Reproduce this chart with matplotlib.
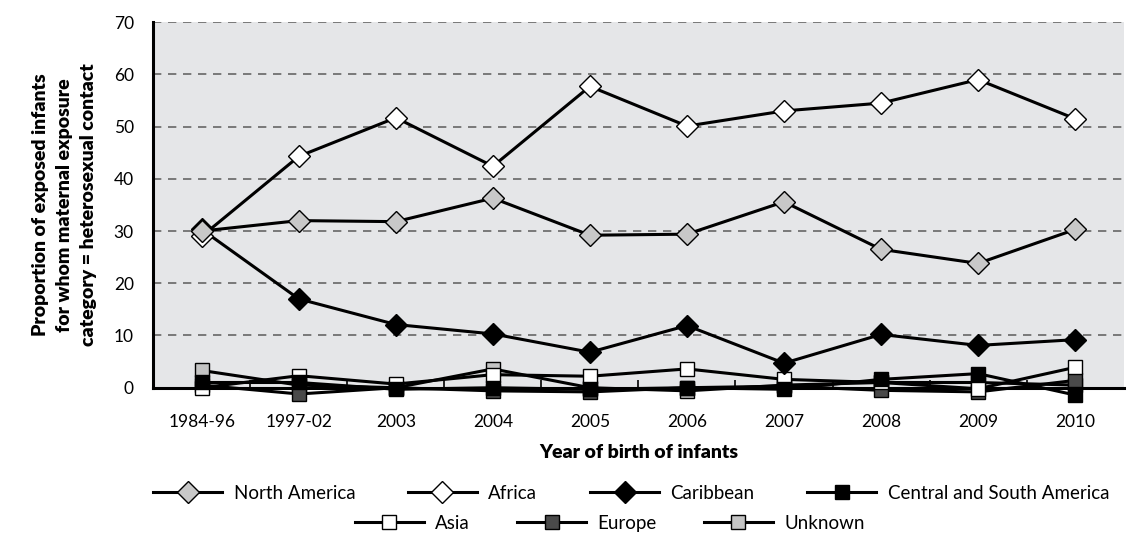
import matplotlib.pyplot as plt
import numpy as np

plt.rcParams['font.family'] = ['Lato', 'DejaVu Sans']

years = ['1984-96', '1997-02', '2003', '2004', '2005', '2006', '2007', '2008', '2009', '2010']

north_america = [30.0, 32.0, 31.8, 36.3, 29.2, 29.4, 35.6, 26.5, 23.8, 30.3]
africa = [29.0, 44.3, 51.7, 42.4, 57.7, 50.1, 53.0, 54.5, 59.0, 51.5]
caribbean = [30.3, 17.0, 12.1, 10.3, 6.8, 11.9, 4.7, 10.2, 8.1, 9.2]
central_south = [1.0, 1.0, -0.3, 0.0, -0.3, 0.0, -0.3, 1.6, 2.7, -1.4]
asia = [0.0, 2.3, 0.7, 2.5, 2.2, 3.6, 1.6, 1.0, -0.2, 3.9]
europe = [0.5, -1.2, 0.0, -0.6, -0.8, 0.0, 0.3, -0.5, -0.8, 1.4]
unknown = [3.3, 0.5, 0.0, 3.6, 0.0, -0.6, 0.5, 1.0, 1.0, 0.5]

series = [
    ('North America', north_america, 'D', '#c8c8c8', 11.5),
    ('Africa', africa, 'D', 'white', 11.5),
    ('Caribbean', caribbean, 'D', 'black', 11.5),
    ('Central and South America', central_south, 's', 'black', 10),
    ('Asia', asia, 's', 'white', 10),
    ('Europe', europe, 's', '#4a4a4a', 10),
    ('Unknown', unknown, 's', '#c4c4c4', 10),
]

fig = plt.figure(figsize=(11.27, 5.4), dpi=100)
ax = fig.add_axes([0.136, 0.282, 0.861, 0.677])
ax.set_facecolor('#e5e6e8')

x = np.arange(len(years))
handles = {}
for i, (name, vals, mk, fc, ms) in enumerate(reversed(series)):
    line, = ax.plot(x, vals, color='black', lw=2.2, marker=mk, markersize=ms,
                    markerfacecolor=fc, markeredgecolor='black', markeredgewidth=1,
                    clip_on=False, zorder=3 + i)
    handles[name] = line

ax.set_xlim(-0.5, 9.5)
ax.set_ylim(0, 70)
ax.set_yticks(range(0, 71, 10))
ax.yaxis.grid(True, ls=(0, (5, 4)), color='#666666', lw=1.2)
ax.set_axisbelow(True)
ax.set_xticks(x)
ax.set_xticklabels(years)
ax.set_xticks(np.arange(0.5, 9, 1), minor=True)
ax.tick_params(axis='x', which='major', length=0, pad=19, labelsize=12.5)
ax.tick_params(axis='x', which='minor', direction='in', length=6, width=1.2)
ax.tick_params(axis='y', length=0, pad=14, labelsize=12.5)
for s in ['top', 'right']:
    ax.spines[s].set_visible(False)
for s in ['left', 'bottom']:
    ax.spines[s].set_linewidth(2.2)

ax.set_xlabel('Year of birth of infants', fontsize=14, fontweight='heavy', labelpad=10)
ax.set_ylabel('Proportion of exposed infants\nfor whom maternal exposure\ncategory = heterosexual contact',
              fontsize=14, fontweight='heavy', labelpad=12, linespacing=1.5)

names = [s[0] for s in series]
fig.legend([handles[n] for n in names[:4]], names[:4], loc='center',
           bbox_to_anchor=(0.56, 0.086), ncol=4, frameon=False,
           handlelength=3.7, handletextpad=0.6, columnspacing=2.8, fontsize=13.5)
fig.legend([handles[n] for n in names[4:]], names[4:], loc='center',
           bbox_to_anchor=(0.541, 0.031), ncol=3, frameon=False,
           handlelength=3.7, handletextpad=0.6, columnspacing=2.5, fontsize=13.5)

fig.savefig('out.png', dpi=100)
